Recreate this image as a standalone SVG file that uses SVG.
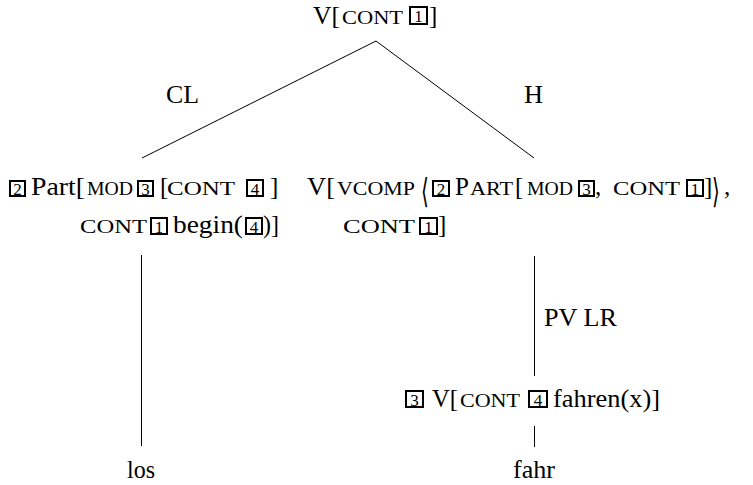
<svg xmlns="http://www.w3.org/2000/svg" width="753" height="485" viewBox="0 0 753 485">
  <style>
    text { font-family: "Liberation Serif", "Times New Roman", serif; fill: #000; }
    .t { font-size: 25px; }
    .sc { font-size: 18px; }
    .bn { font-size: 17px; text-anchor: middle; }
    .bx { fill: none; stroke: #000; stroke-width: 2; }
    .ang { font-family: "DejaVu Sans", sans-serif; font-size: 20px; }
    .edge { stroke: #000; stroke-width: 1; fill: none; }
  </style>

  <!-- connectors -->
  <g id="edges">
    <line class="edge" x1="376" y1="41" x2="142" y2="158"/>
    <line class="edge" x1="376" y1="41" x2="534" y2="158"/>
    <line class="edge" x1="141.5" y1="255" x2="141.5" y2="446"/>
    <line class="edge" x1="534.5" y1="256" x2="534.5" y2="376"/>
    <line class="edge" x1="534.5" y1="426" x2="534.5" y2="447"/>
  </g>

  <!-- edge labels -->
  <g id="labels">
    <text class="t" x="166" y="103" textLength="33" lengthAdjust="spacingAndGlyphs">CL</text>
    <text class="t" x="524" y="103" textLength="19" lengthAdjust="spacingAndGlyphs">H</text>
    <text class="t" x="544" y="326" textLength="73" lengthAdjust="spacingAndGlyphs">PV LR</text>
  </g>

  <!-- root: V[CONT 1] -->
  <g id="root">
    <text class="t" x="313" y="24" textLength="27" lengthAdjust="spacingAndGlyphs">V[</text>
    <text class="sc" x="342" y="24" textLength="61" lengthAdjust="spacingAndGlyphs">CONT</text>
    <rect class="bx" x="410" y="7" width="17" height="17"/>
    <text class="bn" x="418.5" y="22">1</text>
    <text class="t" x="429" y="24">]</text>
  </g>

  <!-- clitic particle node -->
  <g id="particle">
    <rect class="bx" x="10" y="181" width="15" height="15"/>
    <text class="bn" x="17.5" y="194.5">2</text>
    <text class="t" x="31" y="195" textLength="54" lengthAdjust="spacingAndGlyphs">Part[</text>
    <text class="sc" x="87" y="195" textLength="46" lengthAdjust="spacingAndGlyphs">MOD</text>
    <rect class="bx" x="138" y="181" width="15" height="15"/>
    <text class="bn" x="145.5" y="194.5">3</text>
    <text class="t" x="160" y="195">[</text>
    <text class="sc" x="167" y="195" textLength="68" lengthAdjust="spacingAndGlyphs">CONT</text>
    <rect class="bx" x="247" y="180" width="16" height="16"/>
    <text class="bn" x="255" y="194.5">4</text>
    <text class="t" x="270" y="195">]</text>

    <text class="sc" x="80" y="233" textLength="67" lengthAdjust="spacingAndGlyphs">CONT</text>
    <rect class="bx" x="151" y="218" width="16" height="16"/>
    <text class="bn" x="159" y="232.5">1</text>
    <text class="t" x="173" y="233" textLength="70" lengthAdjust="spacingAndGlyphs">begin(</text>
    <rect class="bx" x="246" y="218" width="16" height="16"/>
    <text class="bn" x="254" y="232.5">4</text>
    <text class="t" x="263" y="233" textLength="16" lengthAdjust="spacingAndGlyphs">)]</text>
  </g>

  <!-- head verb node -->
  <g id="head">
    <text class="t" x="307" y="195" textLength="28" lengthAdjust="spacingAndGlyphs">V[</text>
    <text class="sc" x="337" y="195" textLength="78" lengthAdjust="spacingAndGlyphs">VCOMP</text>
    <text class="ang" transform="translate(421 203) scale(1 1.7)">⟨</text>
    <rect class="bx" x="433" y="181" width="16" height="15"/>
    <text class="bn" x="441" y="194.5">2</text>
    <text class="t" x="455" y="195">P</text>
    <text class="sc" x="470" y="195" textLength="43" lengthAdjust="spacingAndGlyphs">ART</text>
    <text class="t" x="515" y="195">[</text>
    <text class="sc" x="527" y="195" textLength="46" lengthAdjust="spacingAndGlyphs">MOD</text>
    <rect class="bx" x="579" y="181" width="15" height="15"/>
    <text class="bn" x="586.5" y="194.5">3</text>
    <text class="t" x="595" y="195">,</text>
    <text class="sc" x="613" y="195" textLength="67" lengthAdjust="spacingAndGlyphs">CONT</text>
    <rect class="bx" x="687" y="180" width="16" height="16"/>
    <text class="bn" x="695" y="194.5">1</text>
    <text class="t" x="704" y="195">]</text>
    <text class="ang" transform="translate(712 203) scale(1 1.7)">⟩</text>
    <text class="t" x="724" y="195">,</text>

    <text class="sc" x="343" y="233" textLength="72" lengthAdjust="spacingAndGlyphs">CONT</text>
    <rect class="bx" x="420" y="218" width="17" height="16"/>
    <text class="bn" x="428.5" y="232.5">1</text>
    <text class="t" x="438" y="233">]</text>
  </g>

  <!-- verb after lexical rule -->
  <g id="verb">
    <rect class="bx" x="406" y="391" width="17" height="16"/>
    <text class="bn" x="414.5" y="405.5">3</text>
    <text class="t" x="432" y="407" textLength="26" lengthAdjust="spacingAndGlyphs">V[</text>
    <text class="sc" x="460" y="407" textLength="60" lengthAdjust="spacingAndGlyphs">CONT</text>
    <rect class="bx" x="529" y="391" width="18" height="16"/>
    <text class="bn" x="538" y="405.5">4</text>
    <text class="t" x="553" y="407" textLength="107" lengthAdjust="spacingAndGlyphs">fahren(x)]</text>
  </g>

  <!-- words -->
  <g id="word-los">
    <text class="t" x="127" y="478" textLength="28" lengthAdjust="spacingAndGlyphs">los</text>
  </g>
  <g id="word-fahr">
    <text class="t" x="513" y="478" textLength="42" lengthAdjust="spacingAndGlyphs">fahr</text>
  </g>
</svg>
